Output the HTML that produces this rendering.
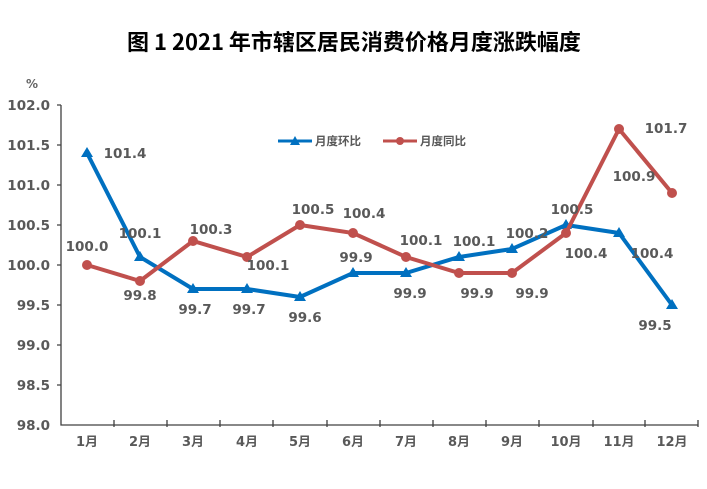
<!DOCTYPE html>
<html><head><meta charset="utf-8"><style>
body{margin:0;background:#fff}
text{font-family:"DejaVu Sans","Noto Sans CJK SC",sans-serif;font-weight:bold}
</style></head><body>
<svg width="707" height="484" xmlns="http://www.w3.org/2000/svg">
<rect width="707" height="484" fill="#fff"/>
<text x="354" y="50" text-anchor="middle" font-size="22" fill="#000" style="font-family:'Noto Sans CJK SC','DejaVu Sans',sans-serif">图 1 2021 年市辖区居民消费价格月度涨跌幅度</text>
<text x="32" y="88" font-size="12" fill="#666" text-anchor="middle" font-weight="normal">%</text>
<g font-size="13.5" fill="#595959" text-anchor="end">
<text x="50" y="110">102.0</text><text x="50" y="150">101.5</text><text x="50" y="190">101.0</text>
<text x="50" y="230">100.5</text><text x="50" y="270">100.0</text><text x="50" y="310">99.5</text>
<text x="50" y="350">99.0</text><text x="50" y="390">98.5</text><text x="50" y="430">98.0</text>
</g>
<g stroke="#404040" stroke-width="1.3" fill="none">
<path d="M61 105V425H698"/>
<path d="M57 105H61M57 145H61M57 185H61M57 225H61M57 265H61M57 305H61M57 345H61M57 385H61"/>
<path d="M114 420V427M167 420V427M220 420V427M273 420V427M327 420V427M380 420V427M433 420V427M486 420V427M539 420V427M593 420V427M645 420V427M698 420V427"/>
</g>
<g font-size="13" fill="#595959" text-anchor="middle">
<text x="87" y="446">1月</text><text x="140" y="446">2月</text><text x="193" y="446">3月</text><text x="247" y="446">4月</text><text x="300" y="446">5月</text><text x="353" y="446">6月</text><text x="406" y="446">7月</text><text x="459" y="446">8月</text><text x="512" y="446">9月</text><text x="566" y="446">10月</text><text x="619" y="446">11月</text><text x="672" y="446">12月</text>
</g>
<polyline fill="none" stroke="#0070C0" stroke-width="4" points="87,153 140,257 193,289 247,289 300,297 353,273 406,273 459,257 512,249 566,225 619,233 672,305"/>
<g fill="#0070C0">
<path d="M87 147l6 10h-12zM140 251l6 10h-12zM193 283l6 10h-12zM247 283l6 10h-12zM300 291l6 10h-12zM353 267l6 10h-12zM406 267l6 10h-12zM459 251l6 10h-12zM512 243l6 10h-12zM566 219l6 10h-12zM619 227l6 10h-12zM672 299l6 10h-12z"/>
</g>
<polyline fill="none" stroke="#C0504D" stroke-width="4" points="87,265 140,281 193,241 247,257 300,225 353,233 406,257 459,273 512,273 566,233 619,129 672,193"/>
<g fill="#C0504D">
<circle cx="87" cy="265" r="5"/><circle cx="140" cy="281" r="5"/><circle cx="193" cy="241" r="5"/><circle cx="247" cy="257" r="5"/><circle cx="300" cy="225" r="5"/><circle cx="353" cy="233" r="5"/><circle cx="406" cy="257" r="5"/><circle cx="459" cy="273" r="5"/><circle cx="512" cy="273" r="5"/><circle cx="566" cy="233" r="5"/><circle cx="619" cy="129" r="5"/><circle cx="672" cy="193" r="5"/>
</g>
<g font-size="13.5" fill="#595959" text-anchor="middle">
<text x="125" y="158">101.4</text>
<text x="87" y="251">100.0</text>
<text x="140" y="238">100.1</text>
<text x="140" y="300">99.8</text>
<text x="211" y="234">100.3</text>
<text x="195" y="314">99.7</text>
<text x="249" y="314">99.7</text>
<text x="268" y="270">100.1</text>
<text x="305" y="322">99.6</text>
<text x="313" y="214">100.5</text>
<text x="364" y="218">100.4</text>
<text x="356" y="262">99.9</text>
<text x="410" y="298">99.9</text>
<text x="421" y="245">100.1</text>
<text x="474" y="246">100.1</text>
<text x="477" y="298">99.9</text>
<text x="527" y="238">100.2</text>
<text x="532" y="298">99.9</text>
<text x="572" y="214">100.5</text>
<text x="586" y="258">100.4</text>
<text x="652" y="258">100.4</text>
<text x="666" y="133">101.7</text>
<text x="634" y="181">100.9</text>
<text x="655" y="330">99.5</text>
</g>
<g font-size="11.5" fill="#595959">
<line x1="278" y1="141" x2="312" y2="141" stroke="#0070C0" stroke-width="3"/>
<path d="M295 136l5 9h-10z" fill="#0070C0"/>
<text x="315" y="145" font-weight="normal">月度环比</text>
<line x1="383" y1="141" x2="417" y2="141" stroke="#C0504D" stroke-width="3"/>
<circle cx="400" cy="141" r="4" fill="#C0504D"/>
<text x="420" y="145" font-weight="normal">月度同比</text>
</g>
</svg>
</body></html>
